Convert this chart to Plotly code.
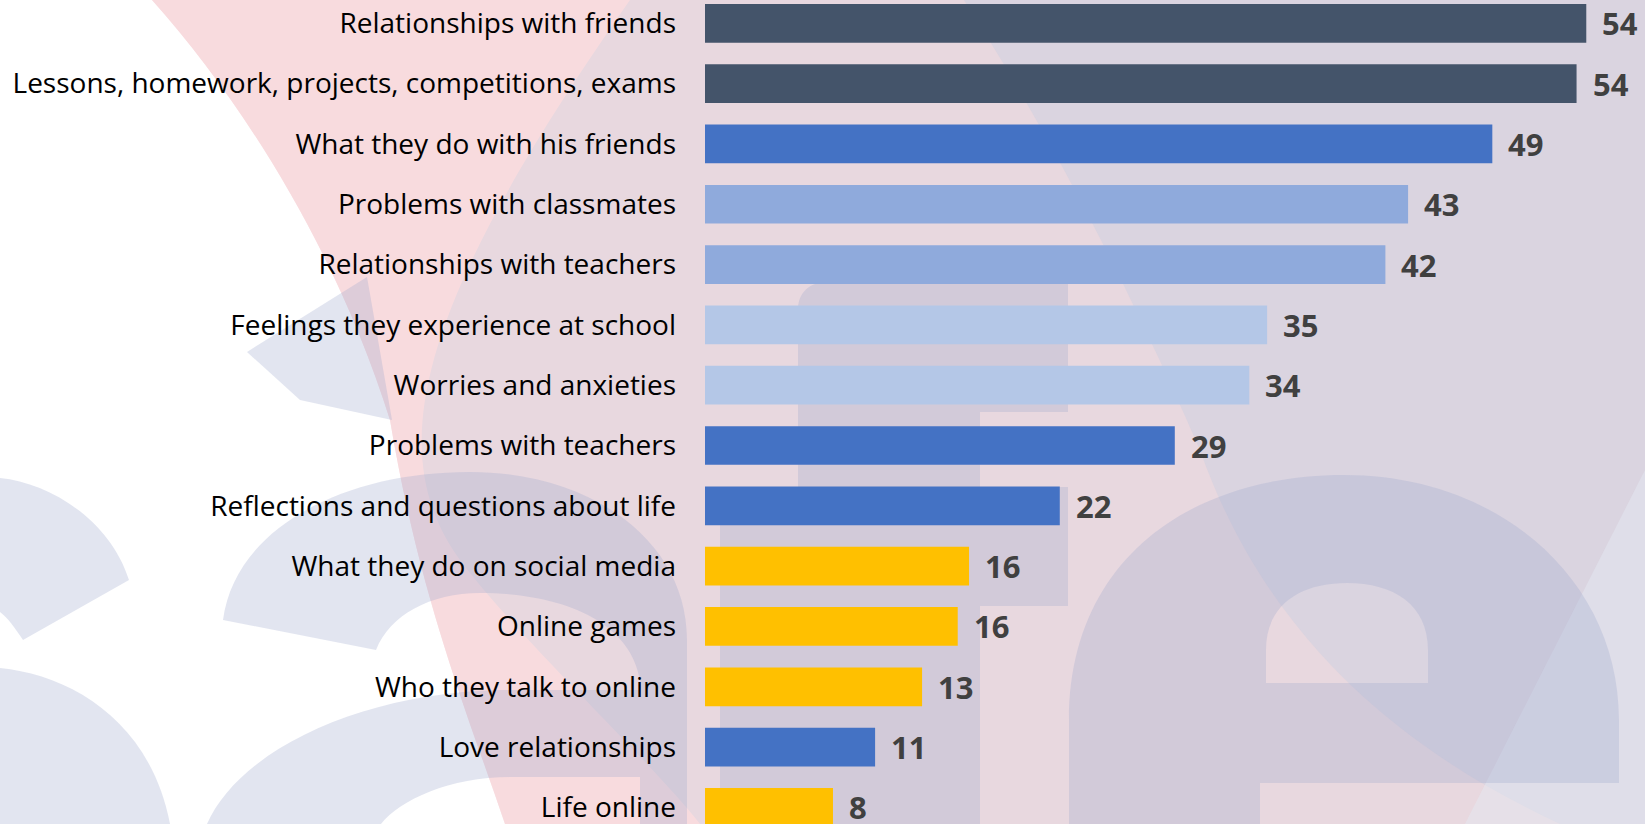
import plotly.graph_objects as go

# ---------------- data ----------------
categories = [
    "Relationships with friends",
    "Lessons, homework, projects, competitions, exams",
    "What they do with his friends",
    "Problems with classmates",
    "Relationships with teachers",
    "Feelings they experience at school",
    "Worries and anxieties",
    "Problems with teachers",
    "Reflections and questions about life",
    "What they do on social media",
    "Online games",
    "Who they talk to online",
    "Love relationships",
    "Life online",
]
values = [54.4, 53.8, 48.6, 43.4, 42.0, 34.7, 33.6, 29.0, 21.9, 16.3, 15.6, 13.4, 10.5, 7.9]
value_labels = ["54", "54", "49", "43", "42", "35", "34", "29", "22", "16", "16", "13", "11", "8"]
bar_colors = ["#44546A", "#44546A", "#4472C4", "#8FAADC", "#8FAADC", "#B4C7E7", "#B4C7E7",
              "#4472C4", "#4472C4", "#FFC000", "#FFC000", "#FFC000", "#4472C4", "#FFC000"]

# ---------------- geometry helpers (background watermark) ----------------
W, H = 1645, 824
L_MARGIN = 705
PLOT_W = W - L_MARGIN


def px(x, y):
    return (x - L_MARGIN) / PLOT_W, 1 - y / H


def path(cmds):
    out = []
    for c in cmds:
        op = c[0]
        if op == "Z":
            out.append("Z")
            continue
        pts = []
        for (x, y) in c[1:]:
            a, b = px(x, y)
            pts.append(f"{a:.5f},{b:.5f}")
        out.append(op + " " + " ".join(pts))
    return " ".join(out)


def shape(cmds, color):
    return dict(type="path", xref="paper", yref="paper", path=path(cmds),
                fillcolor=color, line=dict(width=0), layer="below")


PINK = "rgb(251,219,223)"
LAV = "rgb(218,212,224)"
GRAY = "rgba(160,170,205,0.30)"

pink_band = [("M", (152, 0)), ("L", (964, 0)),
             ("C", (1080, 180), (1170, 380), (1200, 450)),
             ("C", (1260, 620), (1380, 740), (1560, 824)),
             ("L", (505, 824)),
             ("C", (470, 720), (420, 600), (390, 420)),
             ("C", (340, 260), (250, 110), (152, 0)), ("Z",)]

lav_region = [("M", (630, 0)), ("L", (1645, 0)), ("L", (1645, 824)), ("L", (700, 824)),
              ("C", (650, 760), (520, 640), (460, 560)),
              ("C", (380, 450), (420, 300), (630, 0)), ("Z",)]

wedge = [("M", (1645, 470)), ("L", (1465, 824)), ("L", (1645, 824)), ("Z",)]

s_top = [("M", (0, 478)), ("C", (50, 483), (110, 520), (129, 580)), ("L", (23, 640)),
         ("C", (15, 628), (8, 618), (0, 612)), ("Z",)]
s_bottom = [("M", (0, 668)), ("C", (70, 675), (150, 720), (170, 824)), ("L", (0, 824)), ("Z",)]
tri = [("M", (247, 352)), ("L", (367, 277)), ("L", (392, 420)), ("L", (300, 400)), ("Z",)]
a_arc = [("M", (223, 620)), ("C", (235, 530), (340, 472), (470, 472)),
         ("C", (590, 472), (687, 540), (687, 640)), ("L", (687, 824)), ("L", (640, 824)),
         ("L", (640, 680)), ("C", (630, 620), (560, 593), (480, 593)),
         ("C", (430, 593), (390, 615), (376, 650)), ("Z",)]
a_bowl = [("M", (207, 824)), ("C", (240, 750), (360, 693), (500, 690)), ("L", (640, 690)),
          ("L", (640, 777)), ("L", (510, 777)), ("C", (450, 777), (400, 800), (381, 824)), ("Z",)]
block = [("M", (798, 412)), ("L", (798, 310)), ("C", (798, 292), (810, 282), (828, 282)),
         ("L", (1068, 282)), ("L", (1068, 412)), ("L", (980, 412)), ("L", (980, 487)),
         ("L", (1068, 487)), ("L", (1068, 606)), ("L", (980, 606)), ("L", (980, 824)),
         ("L", (720, 824)), ("L", (720, 487)), ("L", (798, 487)), ("Z",)]
e_letter = [("M", (1069, 824)), ("L", (1069, 720)), ("C", (1069, 560), (1190, 475), (1344, 475)),
            ("C", (1500, 475), (1619, 580), (1619, 720)), ("L", (1619, 783)), ("L", (1260, 783)),
            ("L", (1260, 824)), ("Z",),
            ("M", (1266, 683)), ("L", (1266, 650)), ("C", (1266, 605), (1300, 583), (1347, 583)),
            ("C", (1394, 583), (1428, 605), (1428, 650)), ("L", (1428, 683)), ("Z",)]

shapes = [
    shape(pink_band, PINK),
    shape(lav_region, LAV),
    shape(pink_band, "rgba(246,220,222,0.5)"),
    shape(wedge, "rgba(228,234,245,0.45)"),
    shape(s_top, GRAY),
    shape(s_bottom, GRAY),
    shape(tri, GRAY),
    shape(a_arc, GRAY),
    shape(a_bowl, GRAY),
    shape(block, GRAY),
    shape(e_letter, GRAY),
]

# ---------------- figure ----------------
fig = go.Figure()
fig.add_trace(go.Bar(
    x=values, y=categories, orientation="h",
    marker=dict(color=bar_colors, line=dict(width=0)),
    width=0.642, hoverinfo="skip",
))

annotations = [
    dict(x=v, y=c, text=t, xref="x", yref="y", xanchor="left", yanchor="middle",
         xshift=14, showarrow=False,
         font=dict(family="Open Sans", size=31, color="#404040", weight="bold"))
    for v, c, t in zip(values, categories, value_labels)
]

n = len(categories)
fig.update_layout(
    width=W, height=H,
    margin=dict(l=L_MARGIN, r=0, t=0, b=0, pad=0),
    paper_bgcolor="white", plot_bgcolor="rgba(0,0,0,0)",
    showlegend=False,
    shapes=shapes,
    annotations=annotations,
    xaxis=dict(range=[0, PLOT_W / 16.2], visible=False, fixedrange=True),
    yaxis=dict(type="category", categoryorder="array", categoryarray=categories,
               range=[n - 1 + (H - 807.4) / 60.3, -23.3 / 60.3],
               showgrid=False, zeroline=False, showline=False, ticks="",
               ticklabelstandoff=28,
               tickfont=dict(family="Open Sans", size=28, color="#000000")),
)

fig.write_html("out.html")
